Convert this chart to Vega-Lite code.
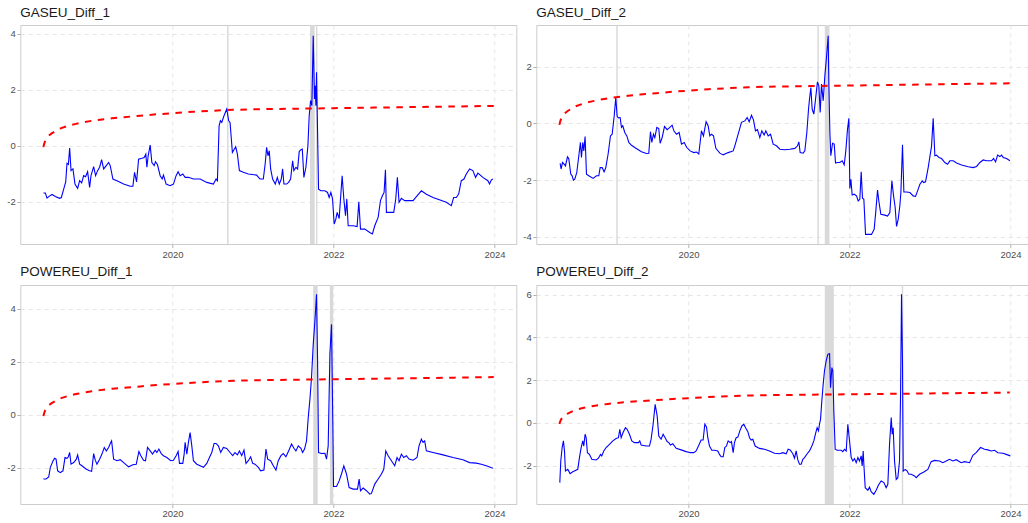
{
  "$schema": "https://vega.github.io/schema/vega-lite/v6.json",
  "padding": {"left": 6.3, "top": 5, "right": 0, "bottom": 0},
  "background": "white",
  "config": {
    "font": "Liberation Sans",
    "view": {"stroke": "#cccccc", "strokeWidth": 1},
    "axis": {
      "labelFont": "Liberation Sans",
      "labelFontSize": 9.5,
      "labelColor": "#4d4d4d",
      "tickColor": "#b3b3b3",
      "tickSize": 3.5,
      "labelPadding": 1.5,
      "domain": false,
      "grid": true,
      "gridColor": "#e6e6e6",
      "gridDash": [4, 4],
      "gridWidth": 1
    },
    "title": {
      "anchor": "start",
      "frame": "group",
      "font": "Liberation Sans",
      "fontSize": 13.5,
      "fontWeight": "normal",
      "color": "#1a1a1a",
      "offset": 6
    }
  },
  "datasets": {
    "cv": [
      {"t": 2018.397, "v": -0.05}, {"t": 2018.405, "v": 0.05}, {"t": 2018.42, "v": 0.18}, {"t": 2018.44, "v": 0.28},
      {"t": 2018.46, "v": 0.35}, {"t": 2018.50, "v": 0.44}, {"t": 2018.55, "v": 0.53}, {"t": 2018.60, "v": 0.61},
      {"t": 2018.70, "v": 0.71}, {"t": 2018.80, "v": 0.78}, {"t": 2018.90, "v": 0.84}, {"t": 2019.00, "v": 0.89},
      {"t": 2019.10, "v": 0.93}, {"t": 2019.25, "v": 0.98}, {"t": 2019.40, "v": 1.02}, {"t": 2019.60, "v": 1.07},
      {"t": 2019.80, "v": 1.12}, {"t": 2020.00, "v": 1.16}, {"t": 2020.25, "v": 1.21}, {"t": 2020.50, "v": 1.25},
      {"t": 2020.75, "v": 1.28}, {"t": 2021.00, "v": 1.30}, {"t": 2021.50, "v": 1.32}, {"t": 2022.00, "v": 1.34},
      {"t": 2022.50, "v": 1.36}, {"t": 2023.00, "v": 1.38}, {"t": 2023.50, "v": 1.40}, {"t": 2023.99, "v": 1.42}
    ],
    "b": [
      {"p": "G1", "t0": 2020.678, "t1": 2020.696}, {"p": "G1", "t0": 2021.708, "t1": 2021.766}, {"p": "G1", "t0": 2021.783, "t1": 2021.800},
      {"p": "G2", "t0": 2019.104, "t1": 2019.122}, {"p": "G2", "t0": 2021.601, "t1": 2021.619}, {"p": "G2", "t0": 2021.693, "t1": 2021.751},
      {"p": "P1", "t0": 2021.748, "t1": 2021.803}, {"p": "P1", "t0": 2021.955, "t1": 2021.996},
      {"p": "P2", "t0": 2021.693, "t1": 2021.805}, {"p": "P2", "t0": 2022.649, "t1": 2022.667}
    ],
    "s": [
      {"p":"G1","t":2018.397,"v":-1.69},{"p":"G1","t":2018.421,"v":-1.69},{"p":"G1","t":2018.442,"v":-1.87},{"p":"G1","t":2018.475,"v":-1.79},
      {"p":"G1","t":2018.504,"v":-1.74},{"p":"G1","t":2018.545,"v":-1.81},{"p":"G1","t":2018.599,"v":-1.88},{"p":"G1","t":2018.620,"v":-1.85},
      {"p":"G1","t":2018.649,"v":-1.55},{"p":"G1","t":2018.674,"v":-1.29},{"p":"G1","t":2018.690,"v":-0.63},{"p":"G1","t":2018.707,"v":-0.67},
      {"p":"G1","t":2018.723,"v":-0.08},{"p":"G1","t":2018.740,"v":-0.89},{"p":"G1","t":2018.764,"v":-0.83},{"p":"G1","t":2018.789,"v":-1.37},
      {"p":"G1","t":2018.822,"v":-1.52},{"p":"G1","t":2018.847,"v":-1.25},{"p":"G1","t":2018.872,"v":-1.33},{"p":"G1","t":2018.897,"v":-1.07},
      {"p":"G1","t":2018.921,"v":-1.11},{"p":"G1","t":2018.946,"v":-0.93},{"p":"G1","t":2018.971,"v":-1.49},{"p":"G1","t":2018.988,"v":-1.07},
      {"p":"G1","t":2019.021,"v":-0.75},{"p":"G1","t":2019.045,"v":-1.07},{"p":"G1","t":2019.070,"v":-0.89},{"p":"G1","t":2019.095,"v":-0.77},
      {"p":"G1","t":2019.120,"v":-0.50},{"p":"G1","t":2019.145,"v":-0.83},{"p":"G1","t":2019.178,"v":-0.71},{"p":"G1","t":2019.207,"v":-0.60},
      {"p":"G1","t":2019.227,"v":-0.71},{"p":"G1","t":2019.260,"v":-1.19},{"p":"G1","t":2019.310,"v":-1.25},{"p":"G1","t":2019.393,"v":-1.37},
      {"p":"G1","t":2019.475,"v":-1.45},{"p":"G1","t":2019.508,"v":-1.45},{"p":"G1","t":2019.529,"v":-0.95},{"p":"G1","t":2019.554,"v":-1.29},
      {"p":"G1","t":2019.579,"v":-0.48},{"p":"G1","t":2019.620,"v":-0.45},{"p":"G1","t":2019.649,"v":-0.42},{"p":"G1","t":2019.669,"v":-0.30},
      {"p":"G1","t":2019.682,"v":-0.77},{"p":"G1","t":2019.698,"v":-0.36},{"p":"G1","t":2019.723,"v":0.02},{"p":"G1","t":2019.744,"v":-0.60},
      {"p":"G1","t":2019.773,"v":-0.71},{"p":"G1","t":2019.789,"v":-0.57},{"p":"G1","t":2019.814,"v":-0.68},{"p":"G1","t":2019.847,"v":-1.07},
      {"p":"G1","t":2019.872,"v":-1.19},{"p":"G1","t":2019.888,"v":-1.05},{"p":"G1","t":2019.921,"v":-1.37},{"p":"G1","t":2019.971,"v":-1.43},
      {"p":"G1","t":2020.012,"v":-1.37},{"p":"G1","t":2020.045,"v":-1.07},{"p":"G1","t":2020.070,"v":-0.93},{"p":"G1","t":2020.095,"v":-1.07},
      {"p":"G1","t":2020.128,"v":-1.01},{"p":"G1","t":2020.157,"v":-1.13},{"p":"G1","t":2020.198,"v":-1.13},{"p":"G1","t":2020.260,"v":-1.19},
      {"p":"G1","t":2020.343,"v":-1.19},{"p":"G1","t":2020.426,"v":-1.31},{"p":"G1","t":2020.508,"v":-1.37},{"p":"G1","t":2020.541,"v":-1.19},
      {"p":"G1","t":2020.558,"v":-1.25},{"p":"G1","t":2020.579,"v":0.71},{"p":"G1","t":2020.595,"v":0.89},{"p":"G1","t":2020.612,"v":0.83},
      {"p":"G1","t":2020.640,"v":1.07},{"p":"G1","t":2020.674,"v":1.31},{"p":"G1","t":2020.698,"v":0.89},{"p":"G1","t":2020.715,"v":0.83},
      {"p":"G1","t":2020.744,"v":-0.24},{"p":"G1","t":2020.769,"v":-0.12},{"p":"G1","t":2020.785,"v":-0.04},{"p":"G1","t":2020.806,"v":-0.30},
      {"p":"G1","t":2020.831,"v":-0.89},{"p":"G1","t":2020.880,"v":-0.95},{"p":"G1","t":2020.942,"v":-1.01},{"p":"G1","t":2021.045,"v":-1.05},
      {"p":"G1","t":2021.087,"v":-1.19},{"p":"G1","t":2021.128,"v":-1.19},{"p":"G1","t":2021.153,"v":-0.60},{"p":"G1","t":2021.169,"v":-0.06},
      {"p":"G1","t":2021.186,"v":-0.36},{"p":"G1","t":2021.202,"v":-0.18},{"p":"G1","t":2021.219,"v":-0.83},{"p":"G1","t":2021.244,"v":-1.19},
      {"p":"G1","t":2021.277,"v":-1.37},{"p":"G1","t":2021.302,"v":-1.13},{"p":"G1","t":2021.326,"v":-1.37},{"p":"G1","t":2021.351,"v":-1.19},
      {"p":"G1","t":2021.368,"v":-0.83},{"p":"G1","t":2021.384,"v":-1.37},{"p":"G1","t":2021.417,"v":-1.37},{"p":"G1","t":2021.442,"v":-1.31},
      {"p":"G1","t":2021.467,"v":-1.19},{"p":"G1","t":2021.492,"v":-0.54},{"p":"G1","t":2021.508,"v":-0.89},{"p":"G1","t":2021.533,"v":-0.77},
      {"p":"G1","t":2021.554,"v":-0.83},{"p":"G1","t":2021.574,"v":-0.21},{"p":"G1","t":2021.595,"v":-0.14},{"p":"G1","t":2021.612,"v":-0.12},
      {"p":"G1","t":2021.632,"v":-1.13},{"p":"G1","t":2021.657,"v":-0.77},{"p":"G1","t":2021.682,"v":0.00},{"p":"G1","t":2021.698,"v":1.07},
      {"p":"G1","t":2021.715,"v":1.61},{"p":"G1","t":2021.731,"v":1.43},{"p":"G1","t":2021.748,"v":3.93},{"p":"G1","t":2021.764,"v":1.67},
      {"p":"G1","t":2021.773,"v":2.14},{"p":"G1","t":2021.781,"v":1.43},{"p":"G1","t":2021.789,"v":2.62},{"p":"G1","t":2021.802,"v":0.48},
      {"p":"G1","t":2021.814,"v":-1.55},{"p":"G1","t":2021.843,"v":-1.61},{"p":"G1","t":2021.893,"v":-1.61},{"p":"G1","t":2021.926,"v":-1.67},
      {"p":"G1","t":2021.946,"v":-1.85},{"p":"G1","t":2021.967,"v":-1.67},{"p":"G1","t":2021.988,"v":-1.90},{"p":"G1","t":2022.008,"v":-2.80},
      {"p":"G1","t":2022.029,"v":-2.62},{"p":"G1","t":2022.045,"v":-2.38},{"p":"G1","t":2022.070,"v":-2.60},{"p":"G1","t":2022.087,"v":-1.90},
      {"p":"G1","t":2022.107,"v":-1.07},{"p":"G1","t":2022.128,"v":-1.90},{"p":"G1","t":2022.149,"v":-2.50},{"p":"G1","t":2022.165,"v":-1.90},
      {"p":"G1","t":2022.182,"v":-2.86},{"p":"G1","t":2022.244,"v":-2.86},{"p":"G1","t":2022.293,"v":-2.89},{"p":"G1","t":2022.314,"v":-2.00},
      {"p":"G1","t":2022.335,"v":-2.98},{"p":"G1","t":2022.388,"v":-2.98},{"p":"G1","t":2022.450,"v":-3.10},{"p":"G1","t":2022.483,"v":-3.15},
      {"p":"G1","t":2022.512,"v":-2.86},{"p":"G1","t":2022.554,"v":-2.56},{"p":"G1","t":2022.583,"v":-1.96},{"p":"G1","t":2022.607,"v":-1.79},
      {"p":"G1","t":2022.628,"v":-1.67},{"p":"G1","t":2022.645,"v":-0.86},{"p":"G1","t":2022.657,"v":-2.38},{"p":"G1","t":2022.698,"v":-2.38},
      {"p":"G1","t":2022.748,"v":-2.38},{"p":"G1","t":2022.773,"v":-1.90},{"p":"G1","t":2022.793,"v":-1.13},{"p":"G1","t":2022.814,"v":-2.02},
      {"p":"G1","t":2022.843,"v":-1.88},{"p":"G1","t":2022.884,"v":-1.96},{"p":"G1","t":2022.988,"v":-1.96},{"p":"G1","t":2023.037,"v":-1.79},
      {"p":"G1","t":2023.091,"v":-1.61},{"p":"G1","t":2023.153,"v":-1.73},{"p":"G1","t":2023.236,"v":-1.85},{"p":"G1","t":2023.401,"v":-2.02},
      {"p":"G1","t":2023.463,"v":-2.14},{"p":"G1","t":2023.492,"v":-1.85},{"p":"G1","t":2023.525,"v":-1.85},{"p":"G1","t":2023.554,"v":-1.73},
      {"p":"G1","t":2023.587,"v":-1.25},{"p":"G1","t":2023.620,"v":-1.19},{"p":"G1","t":2023.649,"v":-1.01},{"p":"G1","t":2023.690,"v":-0.83},
      {"p":"G1","t":2023.731,"v":-0.89},{"p":"G1","t":2023.764,"v":-1.13},{"p":"G1","t":2023.793,"v":-0.98},{"p":"G1","t":2023.855,"v":-1.13},
      {"p":"G1","t":2023.917,"v":-1.25},{"p":"G1","t":2023.938,"v":-1.37},{"p":"G1","t":2023.959,"v":-1.23},{"p":"G1","t":2023.979,"v":-1.19},

      {"p":"G2","t":2018.406,"v":-1.41},{"p":"G2","t":2018.418,"v":-1.61},{"p":"G2","t":2018.435,"v":-1.38},{"p":"G2","t":2018.455,"v":-1.44},
      {"p":"G2","t":2018.472,"v":-1.50},{"p":"G2","t":2018.497,"v":-1.18},{"p":"G2","t":2018.513,"v":-1.24},{"p":"G2","t":2018.538,"v":-1.79},
      {"p":"G2","t":2018.555,"v":-1.85},{"p":"G2","t":2018.571,"v":-2.00},{"p":"G2","t":2018.588,"v":-1.97},{"p":"G2","t":2018.613,"v":-1.73},
      {"p":"G2","t":2018.638,"v":-1.14},{"p":"G2","t":2018.658,"v":-0.67},{"p":"G2","t":2018.671,"v":-1.20},{"p":"G2","t":2018.687,"v":-0.67},
      {"p":"G2","t":2018.700,"v":-0.97},{"p":"G2","t":2018.716,"v":-0.46},{"p":"G2","t":2018.733,"v":-1.79},{"p":"G2","t":2018.762,"v":-1.85},
      {"p":"G2","t":2018.816,"v":-1.94},{"p":"G2","t":2018.857,"v":-1.85},{"p":"G2","t":2018.886,"v":-1.85},{"p":"G2","t":2018.903,"v":-1.56},
      {"p":"G2","t":2018.928,"v":-1.56},{"p":"G2","t":2018.952,"v":-1.71},{"p":"G2","t":2018.973,"v":-1.56},{"p":"G2","t":2019.002,"v":-1.08},
      {"p":"G2","t":2019.031,"v":-0.44},{"p":"G2","t":2019.052,"v":-0.38},{"p":"G2","t":2019.077,"v":0.25},{"p":"G2","t":2019.097,"v":0.92},
      {"p":"G2","t":2019.114,"v":0.25},{"p":"G2","t":2019.130,"v":0.20},{"p":"G2","t":2019.151,"v":0.21},{"p":"G2","t":2019.168,"v":-0.14},
      {"p":"G2","t":2019.184,"v":-0.08},{"p":"G2","t":2019.209,"v":-0.32},{"p":"G2","t":2019.234,"v":-0.44},{"p":"G2","t":2019.259,"v":-0.67},
      {"p":"G2","t":2019.292,"v":-0.77},{"p":"G2","t":2019.333,"v":-0.85},{"p":"G2","t":2019.416,"v":-1.00},{"p":"G2","t":2019.478,"v":-1.06},
      {"p":"G2","t":2019.507,"v":-1.05},{"p":"G2","t":2019.528,"v":-0.29},{"p":"G2","t":2019.545,"v":-0.67},{"p":"G2","t":2019.565,"v":-0.38},
      {"p":"G2","t":2019.582,"v":-0.50},{"p":"G2","t":2019.607,"v":-0.14},{"p":"G2","t":2019.631,"v":-0.18},{"p":"G2","t":2019.648,"v":-0.70},
      {"p":"G2","t":2019.673,"v":-0.50},{"p":"G2","t":2019.702,"v":-0.11},{"p":"G2","t":2019.735,"v":-0.22},{"p":"G2","t":2019.768,"v":-0.14},
      {"p":"G2","t":2019.797,"v":-0.06},{"p":"G2","t":2019.818,"v":-0.26},{"p":"G2","t":2019.851,"v":-0.38},{"p":"G2","t":2019.884,"v":-0.32},
      {"p":"G2","t":2019.913,"v":-0.73},{"p":"G2","t":2019.946,"v":-0.67},{"p":"G2","t":2019.979,"v":-0.85},{"p":"G2","t":2020.021,"v":-0.97},
      {"p":"G2","t":2020.066,"v":-1.03},{"p":"G2","t":2020.099,"v":-1.01},{"p":"G2","t":2020.128,"v":-1.08},{"p":"G2","t":2020.161,"v":-0.26},
      {"p":"G2","t":2020.186,"v":-0.44},{"p":"G2","t":2020.219,"v":0.06},{"p":"G2","t":2020.244,"v":-0.08},{"p":"G2","t":2020.265,"v":-0.44},
      {"p":"G2","t":2020.286,"v":-0.38},{"p":"G2","t":2020.311,"v":-0.44},{"p":"G2","t":2020.340,"v":-0.88},{"p":"G2","t":2020.389,"v":-1.05},
      {"p":"G2","t":2020.431,"v":-1.11},{"p":"G2","t":2020.493,"v":-1.03},{"p":"G2","t":2020.555,"v":-0.97},{"p":"G2","t":2020.576,"v":-0.79},
      {"p":"G2","t":2020.617,"v":-0.38},{"p":"G2","t":2020.658,"v":0.04},{"p":"G2","t":2020.700,"v":0.09},{"p":"G2","t":2020.729,"v":0.21},
      {"p":"G2","t":2020.754,"v":0.06},{"p":"G2","t":2020.783,"v":0.29},{"p":"G2","t":2020.807,"v":0.13},{"p":"G2","t":2020.832,"v":-0.26},
      {"p":"G2","t":2020.857,"v":-0.22},{"p":"G2","t":2020.886,"v":-0.50},{"p":"G2","t":2020.911,"v":-0.26},{"p":"G2","t":2020.940,"v":-0.41},
      {"p":"G2","t":2020.961,"v":-0.26},{"p":"G2","t":2020.990,"v":-0.44},{"p":"G2","t":2021.019,"v":-0.38},{"p":"G2","t":2021.052,"v":-0.73},
      {"p":"G2","t":2021.093,"v":-0.79},{"p":"G2","t":2021.135,"v":-0.91},{"p":"G2","t":2021.197,"v":-0.93},{"p":"G2","t":2021.259,"v":-0.91},
      {"p":"G2","t":2021.321,"v":-0.88},{"p":"G2","t":2021.354,"v":-0.79},{"p":"G2","t":2021.371,"v":-0.65},{"p":"G2","t":2021.387,"v":-1.03},
      {"p":"G2","t":2021.424,"v":-1.05},{"p":"G2","t":2021.445,"v":-0.97},{"p":"G2","t":2021.470,"v":-0.32},{"p":"G2","t":2021.491,"v":0.51},
      {"p":"G2","t":2021.503,"v":0.86},{"p":"G2","t":2021.520,"v":1.27},{"p":"G2","t":2021.536,"v":0.51},{"p":"G2","t":2021.557,"v":0.33},
      {"p":"G2","t":2021.578,"v":0.86},{"p":"G2","t":2021.602,"v":1.47},{"p":"G2","t":2021.619,"v":1.33},{"p":"G2","t":2021.636,"v":0.39},
      {"p":"G2","t":2021.652,"v":1.39},{"p":"G2","t":2021.673,"v":0.80},{"p":"G2","t":2021.694,"v":1.69},{"p":"G2","t":2021.714,"v":2.34},
      {"p":"G2","t":2021.735,"v":3.10},{"p":"G2","t":2021.743,"v":1.45},{"p":"G2","t":2021.756,"v":-0.32},{"p":"G2","t":2021.768,"v":-1.14},
      {"p":"G2","t":2021.789,"v":-0.70},{"p":"G2","t":2021.810,"v":-0.73},{"p":"G2","t":2021.826,"v":-1.40},{"p":"G2","t":2021.851,"v":-1.38},
      {"p":"G2","t":2021.880,"v":-1.38},{"p":"G2","t":2021.909,"v":-1.32},{"p":"G2","t":2021.934,"v":-1.46},{"p":"G2","t":2021.954,"v":-0.97},
      {"p":"G2","t":2021.975,"v":-0.20},{"p":"G2","t":2021.992,"v":0.18},{"p":"G2","t":2022.004,"v":-2.30},{"p":"G2","t":2022.017,"v":-1.97},
      {"p":"G2","t":2022.033,"v":-2.53},{"p":"G2","t":2022.058,"v":-2.50},{"p":"G2","t":2022.087,"v":-2.56},{"p":"G2","t":2022.108,"v":-2.74},
      {"p":"G2","t":2022.128,"v":-2.68},{"p":"G2","t":2022.145,"v":-1.71},{"p":"G2","t":2022.161,"v":-2.64},{"p":"G2","t":2022.178,"v":-2.68},
      {"p":"G2","t":2022.199,"v":-3.92},{"p":"G2","t":2022.232,"v":-3.92},{"p":"G2","t":2022.273,"v":-3.92},{"p":"G2","t":2022.306,"v":-3.74},
      {"p":"G2","t":2022.327,"v":-3.09},{"p":"G2","t":2022.348,"v":-2.35},{"p":"G2","t":2022.364,"v":-2.74},{"p":"G2","t":2022.389,"v":-3.21},
      {"p":"G2","t":2022.439,"v":-3.24},{"p":"G2","t":2022.472,"v":-3.27},{"p":"G2","t":2022.501,"v":-3.15},{"p":"G2","t":2022.526,"v":-2.03},
      {"p":"G2","t":2022.547,"v":-2.56},{"p":"G2","t":2022.567,"v":-2.97},{"p":"G2","t":2022.584,"v":-3.64},{"p":"G2","t":2022.605,"v":-3.38},
      {"p":"G2","t":2022.625,"v":-2.91},{"p":"G2","t":2022.638,"v":-2.44},{"p":"G2","t":2022.658,"v":-0.75},{"p":"G2","t":2022.675,"v":-2.42},
      {"p":"G2","t":2022.708,"v":-2.42},{"p":"G2","t":2022.750,"v":-2.44},{"p":"G2","t":2022.791,"v":-2.56},{"p":"G2","t":2022.820,"v":-2.58},
      {"p":"G2","t":2022.853,"v":-2.32},{"p":"G2","t":2022.874,"v":-2.15},{"p":"G2","t":2022.903,"v":-2.03},{"p":"G2","t":2022.919,"v":-2.09},
      {"p":"G2","t":2022.944,"v":-2.06},{"p":"G2","t":2022.977,"v":-1.56},{"p":"G2","t":2023.019,"v":-0.79},{"p":"G2","t":2023.039,"v":0.18},
      {"p":"G2","t":2023.060,"v":-1.14},{"p":"G2","t":2023.081,"v":-1.12},{"p":"G2","t":2023.110,"v":-1.20},{"p":"G2","t":2023.143,"v":-1.24},
      {"p":"G2","t":2023.184,"v":-1.38},{"p":"G2","t":2023.217,"v":-1.44},{"p":"G2","t":2023.246,"v":-1.32},{"p":"G2","t":2023.288,"v":-1.32},
      {"p":"G2","t":2023.329,"v":-1.40},{"p":"G2","t":2023.391,"v":-1.47},{"p":"G2","t":2023.474,"v":-1.53},{"p":"G2","t":2023.536,"v":-1.56},
      {"p":"G2","t":2023.578,"v":-1.52},{"p":"G2","t":2023.619,"v":-1.38},{"p":"G2","t":2023.660,"v":-1.29},{"p":"G2","t":2023.702,"v":-1.32},
      {"p":"G2","t":2023.764,"v":-1.32},{"p":"G2","t":2023.789,"v":-1.24},{"p":"G2","t":2023.814,"v":-1.36},{"p":"G2","t":2023.839,"v":-1.12},
      {"p":"G2","t":2023.867,"v":-1.17},{"p":"G2","t":2023.888,"v":-1.12},{"p":"G2","t":2023.909,"v":-1.20},{"p":"G2","t":2023.950,"v":-1.24},
      {"p":"G2","t":2023.992,"v":-1.32},

      {"p":"P1","t":2018.397,"v":-2.42},{"p":"P1","t":2018.430,"v":-2.42},{"p":"P1","t":2018.463,"v":-2.34},{"p":"P1","t":2018.483,"v":-1.98},
      {"p":"P1","t":2018.517,"v":-1.73},{"p":"P1","t":2018.537,"v":-1.64},{"p":"P1","t":2018.554,"v":-1.67},{"p":"P1","t":2018.574,"v":-2.11},
      {"p":"P1","t":2018.607,"v":-2.18},{"p":"P1","t":2018.640,"v":-2.11},{"p":"P1","t":2018.665,"v":-1.61},{"p":"P1","t":2018.690,"v":-1.64},
      {"p":"P1","t":2018.707,"v":-1.58},{"p":"P1","t":2018.723,"v":-1.42},{"p":"P1","t":2018.740,"v":-1.86},{"p":"P1","t":2018.773,"v":-1.80},
      {"p":"P1","t":2018.806,"v":-1.67},{"p":"P1","t":2018.822,"v":-1.51},{"p":"P1","t":2018.847,"v":-1.86},{"p":"P1","t":2018.876,"v":-1.92},
      {"p":"P1","t":2018.930,"v":-2.05},{"p":"P1","t":2018.971,"v":-2.11},{"p":"P1","t":2018.996,"v":-2.13},{"p":"P1","t":2019.021,"v":-1.46},
      {"p":"P1","t":2019.041,"v":-1.71},{"p":"P1","t":2019.062,"v":-1.86},{"p":"P1","t":2019.095,"v":-1.67},{"p":"P1","t":2019.124,"v":-1.48},
      {"p":"P1","t":2019.153,"v":-1.23},{"p":"P1","t":2019.178,"v":-1.36},{"p":"P1","t":2019.207,"v":-1.23},{"p":"P1","t":2019.227,"v":-1.08},
      {"p":"P1","t":2019.244,"v":-0.98},{"p":"P1","t":2019.269,"v":-1.67},{"p":"P1","t":2019.310,"v":-1.73},{"p":"P1","t":2019.351,"v":-1.69},
      {"p":"P1","t":2019.393,"v":-1.80},{"p":"P1","t":2019.455,"v":-1.96},{"p":"P1","t":2019.508,"v":-1.88},{"p":"P1","t":2019.550,"v":-1.86},
      {"p":"P1","t":2019.583,"v":-1.38},{"p":"P1","t":2019.607,"v":-1.54},{"p":"P1","t":2019.640,"v":-1.71},{"p":"P1","t":2019.665,"v":-1.73},
      {"p":"P1","t":2019.690,"v":-1.23},{"p":"P1","t":2019.723,"v":-1.36},{"p":"P1","t":2019.752,"v":-1.48},{"p":"P1","t":2019.785,"v":-1.33},
      {"p":"P1","t":2019.806,"v":-1.42},{"p":"P1","t":2019.831,"v":-1.29},{"p":"P1","t":2019.860,"v":-1.46},{"p":"P1","t":2019.888,"v":-1.54},
      {"p":"P1","t":2019.930,"v":-1.61},{"p":"P1","t":2019.979,"v":-1.73},{"p":"P1","t":2020.012,"v":-1.71},{"p":"P1","t":2020.045,"v":-1.54},
      {"p":"P1","t":2020.070,"v":-1.38},{"p":"P1","t":2020.087,"v":-1.83},{"p":"P1","t":2020.128,"v":-1.83},{"p":"P1","t":2020.145,"v":-1.48},
      {"p":"P1","t":2020.157,"v":-1.04},{"p":"P1","t":2020.178,"v":-1.48},{"p":"P1","t":2020.198,"v":-1.04},{"p":"P1","t":2020.219,"v":-0.67},
      {"p":"P1","t":2020.240,"v":-1.17},{"p":"P1","t":2020.260,"v":-1.73},{"p":"P1","t":2020.302,"v":-1.86},{"p":"P1","t":2020.343,"v":-1.92},
      {"p":"P1","t":2020.384,"v":-1.98},{"p":"P1","t":2020.426,"v":-1.83},{"p":"P1","t":2020.459,"v":-1.61},{"p":"P1","t":2020.488,"v":-1.42},
      {"p":"P1","t":2020.517,"v":-1.08},{"p":"P1","t":2020.541,"v":-1.08},{"p":"P1","t":2020.570,"v":-1.17},{"p":"P1","t":2020.599,"v":-1.42},
      {"p":"P1","t":2020.632,"v":-1.23},{"p":"P1","t":2020.674,"v":-1.27},{"p":"P1","t":2020.715,"v":-1.42},{"p":"P1","t":2020.748,"v":-1.54},
      {"p":"P1","t":2020.777,"v":-1.42},{"p":"P1","t":2020.806,"v":-1.51},{"p":"P1","t":2020.831,"v":-1.36},{"p":"P1","t":2020.860,"v":-1.54},
      {"p":"P1","t":2020.888,"v":-1.33},{"p":"P1","t":2020.913,"v":-1.83},{"p":"P1","t":2020.942,"v":-1.73},{"p":"P1","t":2020.971,"v":-1.58},
      {"p":"P1","t":2020.996,"v":-1.83},{"p":"P1","t":2021.025,"v":-1.86},{"p":"P1","t":2021.066,"v":-1.98},{"p":"P1","t":2021.095,"v":-2.11},
      {"p":"P1","t":2021.136,"v":-2.08},{"p":"P1","t":2021.161,"v":-1.29},{"p":"P1","t":2021.182,"v":-1.67},{"p":"P1","t":2021.219,"v":-1.73},
      {"p":"P1","t":2021.252,"v":-1.92},{"p":"P1","t":2021.285,"v":-2.08},{"p":"P1","t":2021.314,"v":-1.73},{"p":"P1","t":2021.347,"v":-1.54},
      {"p":"P1","t":2021.376,"v":-1.46},{"p":"P1","t":2021.409,"v":-1.58},{"p":"P1","t":2021.442,"v":-1.36},{"p":"P1","t":2021.479,"v":-1.10},
      {"p":"P1","t":2021.508,"v":-1.26},{"p":"P1","t":2021.533,"v":-1.36},{"p":"P1","t":2021.562,"v":-1.17},{"p":"P1","t":2021.595,"v":-1.26},
      {"p":"P1","t":2021.616,"v":-1.42},{"p":"P1","t":2021.640,"v":-1.29},{"p":"P1","t":2021.665,"v":-0.98},{"p":"P1","t":2021.686,"v":-0.10},
      {"p":"P1","t":2021.707,"v":0.59},{"p":"P1","t":2021.727,"v":1.41},{"p":"P1","t":2021.748,"v":2.66},{"p":"P1","t":2021.769,"v":3.54},
      {"p":"P1","t":2021.789,"v":4.54},{"p":"P1","t":2021.802,"v":2.03},{"p":"P1","t":2021.814,"v":-1.42},{"p":"P1","t":2021.851,"v":-1.46},
      {"p":"P1","t":2021.893,"v":-1.45},{"p":"P1","t":2021.913,"v":-1.67},{"p":"P1","t":2021.934,"v":-1.17},{"p":"P1","t":2021.955,"v":2.28},
      {"p":"P1","t":2021.975,"v":3.41},{"p":"P1","t":2021.992,"v":-0.48},{"p":"P1","t":2022.000,"v":-2.70},{"p":"P1","t":2022.037,"v":-2.70},
      {"p":"P1","t":2022.070,"v":-2.49},{"p":"P1","t":2022.099,"v":-2.23},{"p":"P1","t":2022.128,"v":-1.92},{"p":"P1","t":2022.161,"v":-2.23},
      {"p":"P1","t":2022.194,"v":-2.74},{"p":"P1","t":2022.244,"v":-2.80},{"p":"P1","t":2022.298,"v":-2.80},{"p":"P1","t":2022.318,"v":-2.42},
      {"p":"P1","t":2022.335,"v":-2.86},{"p":"P1","t":2022.368,"v":-2.76},{"p":"P1","t":2022.409,"v":-2.86},{"p":"P1","t":2022.450,"v":-2.99},
      {"p":"P1","t":2022.471,"v":-2.96},{"p":"P1","t":2022.512,"v":-2.61},{"p":"P1","t":2022.554,"v":-2.42},{"p":"P1","t":2022.595,"v":-2.23},
      {"p":"P1","t":2022.624,"v":-2.05},{"p":"P1","t":2022.649,"v":-1.36},{"p":"P1","t":2022.678,"v":-1.54},{"p":"P1","t":2022.719,"v":-1.73},
      {"p":"P1","t":2022.760,"v":-1.92},{"p":"P1","t":2022.789,"v":-1.61},{"p":"P1","t":2022.814,"v":-1.73},{"p":"P1","t":2022.843,"v":-1.48},
      {"p":"P1","t":2022.872,"v":-1.61},{"p":"P1","t":2022.905,"v":-1.54},{"p":"P1","t":2022.938,"v":-1.67},{"p":"P1","t":2022.988,"v":-1.71},
      {"p":"P1","t":2023.037,"v":-1.61},{"p":"P1","t":2023.062,"v":-1.17},{"p":"P1","t":2023.091,"v":-0.92},{"p":"P1","t":2023.112,"v":-1.04},
      {"p":"P1","t":2023.132,"v":-0.98},{"p":"P1","t":2023.153,"v":-1.36},{"p":"P1","t":2023.236,"v":-1.42},{"p":"P1","t":2023.360,"v":-1.51},
      {"p":"P1","t":2023.483,"v":-1.61},{"p":"P1","t":2023.607,"v":-1.69},{"p":"P1","t":2023.690,"v":-1.80},{"p":"P1","t":2023.773,"v":-1.82},
      {"p":"P1","t":2023.835,"v":-1.86},{"p":"P1","t":2023.897,"v":-1.92},{"p":"P1","t":2023.979,"v":-2.01},

      {"p":"P2","t":2018.402,"v":-2.79},{"p":"P2","t":2018.414,"v":-1.78},{"p":"P2","t":2018.431,"v":-1.15},{"p":"P2","t":2018.447,"v":-0.84},
      {"p":"P2","t":2018.460,"v":-1.31},{"p":"P2","t":2018.472,"v":-2.25},{"p":"P2","t":2018.501,"v":-2.17},{"p":"P2","t":2018.530,"v":-2.37},
      {"p":"P2","t":2018.563,"v":-2.28},{"p":"P2","t":2018.596,"v":-2.22},{"p":"P2","t":2018.625,"v":-2.17},{"p":"P2","t":2018.646,"v":-1.62},
      {"p":"P2","t":2018.667,"v":-1.15},{"p":"P2","t":2018.687,"v":-0.84},{"p":"P2","t":2018.700,"v":-1.08},{"p":"P2","t":2018.716,"v":-0.53},
      {"p":"P2","t":2018.729,"v":-0.69},{"p":"P2","t":2018.745,"v":-1.39},{"p":"P2","t":2018.770,"v":-1.47},{"p":"P2","t":2018.799,"v":-1.70},
      {"p":"P2","t":2018.853,"v":-1.73},{"p":"P2","t":2018.882,"v":-1.65},{"p":"P2","t":2018.907,"v":-1.47},{"p":"P2","t":2018.923,"v":-1.54},
      {"p":"P2","t":2018.948,"v":-1.31},{"p":"P2","t":2018.977,"v":-1.15},{"p":"P2","t":2019.019,"v":-1.00},{"p":"P2","t":2019.060,"v":-0.84},
      {"p":"P2","t":2019.101,"v":-0.73},{"p":"P2","t":2019.130,"v":-0.69},{"p":"P2","t":2019.147,"v":-0.30},{"p":"P2","t":2019.164,"v":-0.69},
      {"p":"P2","t":2019.188,"v":-0.45},{"p":"P2","t":2019.217,"v":-0.22},{"p":"P2","t":2019.238,"v":-0.30},{"p":"P2","t":2019.267,"v":-0.53},
      {"p":"P2","t":2019.296,"v":-0.84},{"p":"P2","t":2019.329,"v":-0.92},{"p":"P2","t":2019.379,"v":-0.92},{"p":"P2","t":2019.395,"v":-0.84},
      {"p":"P2","t":2019.412,"v":-1.03},{"p":"P2","t":2019.474,"v":-1.08},{"p":"P2","t":2019.516,"v":-1.08},{"p":"P2","t":2019.536,"v":-0.76},
      {"p":"P2","t":2019.561,"v":-0.06},{"p":"P2","t":2019.586,"v":0.87},{"p":"P2","t":2019.611,"v":0.33},{"p":"P2","t":2019.631,"v":-0.61},
      {"p":"P2","t":2019.660,"v":-0.76},{"p":"P2","t":2019.685,"v":-0.53},{"p":"P2","t":2019.710,"v":-0.69},{"p":"P2","t":2019.735,"v":-0.87},
      {"p":"P2","t":2019.756,"v":-0.92},{"p":"P2","t":2019.776,"v":-1.03},{"p":"P2","t":2019.805,"v":-0.97},{"p":"P2","t":2019.847,"v":-1.19},
      {"p":"P2","t":2019.909,"v":-1.26},{"p":"P2","t":2019.971,"v":-1.34},{"p":"P2","t":2020.025,"v":-1.39},{"p":"P2","t":2020.066,"v":-1.39},
      {"p":"P2","t":2020.095,"v":-1.31},{"p":"P2","t":2020.124,"v":-1.08},{"p":"P2","t":2020.157,"v":-0.80},{"p":"P2","t":2020.182,"v":-0.80},
      {"p":"P2","t":2020.203,"v":-0.06},{"p":"P2","t":2020.224,"v":-0.19},{"p":"P2","t":2020.240,"v":-0.69},{"p":"P2","t":2020.261,"v":-1.08},
      {"p":"P2","t":2020.290,"v":-1.28},{"p":"P2","t":2020.323,"v":-1.28},{"p":"P2","t":2020.364,"v":-1.31},{"p":"P2","t":2020.385,"v":-1.47},
      {"p":"P2","t":2020.406,"v":-1.58},{"p":"P2","t":2020.431,"v":-1.58},{"p":"P2","t":2020.451,"v":-1.15},{"p":"P2","t":2020.472,"v":-1.08},
      {"p":"P2","t":2020.493,"v":-0.84},{"p":"P2","t":2020.518,"v":-0.92},{"p":"P2","t":2020.534,"v":-0.87},{"p":"P2","t":2020.555,"v":-1.39},
      {"p":"P2","t":2020.571,"v":-0.92},{"p":"P2","t":2020.592,"v":-0.69},{"p":"P2","t":2020.613,"v":-0.66},{"p":"P2","t":2020.638,"v":-0.37},
      {"p":"P2","t":2020.663,"v":-0.14},{"p":"P2","t":2020.687,"v":-0.06},{"p":"P2","t":2020.712,"v":-0.25},{"p":"P2","t":2020.737,"v":-0.41},
      {"p":"P2","t":2020.758,"v":-0.69},{"p":"P2","t":2020.778,"v":-0.80},{"p":"P2","t":2020.799,"v":-0.76},{"p":"P2","t":2020.828,"v":-1.08},
      {"p":"P2","t":2020.882,"v":-1.19},{"p":"P2","t":2020.944,"v":-1.23},{"p":"P2","t":2021.006,"v":-1.31},{"p":"P2","t":2021.068,"v":-1.42},
      {"p":"P2","t":2021.130,"v":-1.44},{"p":"P2","t":2021.172,"v":-1.39},{"p":"P2","t":2021.213,"v":-1.44},{"p":"P2","t":2021.238,"v":-1.23},
      {"p":"P2","t":2021.263,"v":-1.26},{"p":"P2","t":2021.296,"v":-1.44},{"p":"P2","t":2021.317,"v":-1.65},{"p":"P2","t":2021.337,"v":-1.31},
      {"p":"P2","t":2021.358,"v":-1.73},{"p":"P2","t":2021.379,"v":-1.93},{"p":"P2","t":2021.400,"v":-1.93},{"p":"P2","t":2021.420,"v":-1.70},
      {"p":"P2","t":2021.441,"v":-1.62},{"p":"P2","t":2021.474,"v":-1.44},{"p":"P2","t":2021.503,"v":-1.31},{"p":"P2","t":2021.532,"v":-1.08},
      {"p":"P2","t":2021.557,"v":-0.84},{"p":"P2","t":2021.578,"v":-0.50},{"p":"P2","t":2021.598,"v":-0.22},{"p":"P2","t":2021.615,"v":-0.37},
      {"p":"P2","t":2021.627,"v":-0.06},{"p":"P2","t":2021.640,"v":0.17},{"p":"P2","t":2021.656,"v":1.03},{"p":"P2","t":2021.673,"v":1.81},
      {"p":"P2","t":2021.689,"v":2.43},{"p":"P2","t":2021.710,"v":2.90},{"p":"P2","t":2021.731,"v":3.21},{"p":"P2","t":2021.752,"v":3.24},
      {"p":"P2","t":2021.764,"v":1.65},{"p":"P2","t":2021.781,"v":2.59},{"p":"P2","t":2021.793,"v":2.43},{"p":"P2","t":2021.805,"v":0.56},
      {"p":"P2","t":2021.822,"v":-1.23},{"p":"P2","t":2021.847,"v":-1.28},{"p":"P2","t":2021.896,"v":-1.28},{"p":"P2","t":2021.917,"v":-1.34},
      {"p":"P2","t":2021.938,"v":-1.23},{"p":"P2","t":2021.959,"v":-1.31},{"p":"P2","t":2021.979,"v":-0.06},{"p":"P2","t":2022.000,"v":-0.84},
      {"p":"P2","t":2022.021,"v":-1.62},{"p":"P2","t":2022.041,"v":-1.78},{"p":"P2","t":2022.062,"v":-1.67},{"p":"P2","t":2022.083,"v":-1.86},
      {"p":"P2","t":2022.104,"v":-1.62},{"p":"P2","t":2022.124,"v":-1.78},{"p":"P2","t":2022.145,"v":-1.54},{"p":"P2","t":2022.157,"v":-2.01},
      {"p":"P2","t":2022.170,"v":-1.31},{"p":"P2","t":2022.178,"v":-1.93},{"p":"P2","t":2022.195,"v":-3.03},{"p":"P2","t":2022.228,"v":-3.15},
      {"p":"P2","t":2022.248,"v":-3.00},{"p":"P2","t":2022.269,"v":-3.21},{"p":"P2","t":2022.302,"v":-3.34},{"p":"P2","t":2022.331,"v":-3.15},
      {"p":"P2","t":2022.360,"v":-2.90},{"p":"P2","t":2022.393,"v":-2.71},{"p":"P2","t":2022.427,"v":-2.79},{"p":"P2","t":2022.455,"v":-3.03},
      {"p":"P2","t":2022.476,"v":-2.87},{"p":"P2","t":2022.497,"v":-1.00},{"p":"P2","t":2022.518,"v":0.25},{"p":"P2","t":2022.530,"v":-0.53},
      {"p":"P2","t":2022.542,"v":-0.22},{"p":"P2","t":2022.559,"v":-1.78},{"p":"P2","t":2022.580,"v":-2.64},{"p":"P2","t":2022.600,"v":-2.56},
      {"p":"P2","t":2022.621,"v":-1.78},{"p":"P2","t":2022.634,"v":1.34},{"p":"P2","t":2022.646,"v":6.02},{"p":"P2","t":2022.658,"v":2.90},
      {"p":"P2","t":2022.667,"v":-2.25},{"p":"P2","t":2022.692,"v":-2.17},{"p":"P2","t":2022.716,"v":-2.25},{"p":"P2","t":2022.737,"v":-2.40},
      {"p":"P2","t":2022.766,"v":-2.40},{"p":"P2","t":2022.807,"v":-2.48},{"p":"P2","t":2022.828,"v":-2.56},{"p":"P2","t":2022.870,"v":-2.40},
      {"p":"P2","t":2022.923,"v":-2.29},{"p":"P2","t":2022.973,"v":-2.17},{"p":"P2","t":2023.014,"v":-1.81},{"p":"P2","t":2023.056,"v":-1.75},
      {"p":"P2","t":2023.118,"v":-1.78},{"p":"P2","t":2023.159,"v":-1.86},{"p":"P2","t":2023.201,"v":-1.78},{"p":"P2","t":2023.242,"v":-1.70},
      {"p":"P2","t":2023.284,"v":-1.78},{"p":"P2","t":2023.325,"v":-1.72},{"p":"P2","t":2023.387,"v":-1.86},{"p":"P2","t":2023.429,"v":-1.81},
      {"p":"P2","t":2023.491,"v":-1.86},{"p":"P2","t":2023.532,"v":-1.51},{"p":"P2","t":2023.573,"v":-1.39},{"p":"P2","t":2023.627,"v":-1.15},
      {"p":"P2","t":2023.677,"v":-1.23},{"p":"P2","t":2023.718,"v":-1.26},{"p":"P2","t":2023.760,"v":-1.31},{"p":"P2","t":2023.801,"v":-1.28},
      {"p":"P2","t":2023.843,"v":-1.39},{"p":"P2","t":2023.905,"v":-1.42},{"p":"P2","t":2023.946,"v":-1.47},{"p":"P2","t":2023.996,"v":-1.54}
    ]
  },
  "columns": 2,
  "spacing": {"row": 41, "column": 20},
  "bounds": "flush",
  "concat": [
    {
      "width": 496, "height": 219,
      "title": {"text": "GASEU_Diff_1"},
      "layer": [
        {"data": {"name": "b"}, "transform": [{"filter": "datum.p === 'G1'"}],
         "mark": {"type": "rect", "color": "#d9d9d9"},
         "encoding": {"x": {"field": "t0", "type": "quantitative", "scale": {"domain": [2018.11, 2024.27], "nice": false, "zero": false}, "axis": {"values": [2020, 2022, 2024], "format": "d", "title": null}}, "x2": {"field": "t1"}}},
        {"data": {"name": "s"}, "transform": [{"filter": "datum.p === 'G1'"}],
         "mark": {"type": "line", "color": "#0000ff", "strokeWidth": 1.1},
         "encoding": {"x": {"field": "t", "type": "quantitative", "scale": {"domain": [2018.11, 2024.27], "nice": false, "zero": false}, "axis": {"values": [2020, 2022, 2024], "format": "d", "title": null}},
                      "y": {"field": "v", "type": "quantitative", "scale": {"domain": [-3.51, 4.31], "nice": false, "zero": false}, "axis": {"values": [-2, 0, 2, 4], "title": null, "labelExpr": "replace(datum.label, '−', '-')"}}}},
        {"data": {"name": "cv"},
         "mark": {"type": "line", "color": "#ff0000", "strokeWidth": 2, "strokeDash": [6.5, 6.5]},
         "encoding": {"x": {"field": "t", "type": "quantitative"}, "y": {"field": "v", "type": "quantitative"}}}
      ]
    },
    {
      "width": 496, "height": 219,
      "title": {"text": "GASEU_Diff_2"},
      "layer": [
        {"data": {"name": "b"}, "transform": [{"filter": "datum.p === 'G2'"}],
         "mark": {"type": "rect", "color": "#d9d9d9"},
         "encoding": {"x": {"field": "t0", "type": "quantitative", "scale": {"domain": [2018.11, 2024.27], "nice": false, "zero": false}, "axis": {"values": [2020, 2022, 2024], "format": "d", "title": null}}, "x2": {"field": "t1"}}},
        {"data": {"name": "s"}, "transform": [{"filter": "datum.p === 'G2'"}],
         "mark": {"type": "line", "color": "#0000ff", "strokeWidth": 1.1},
         "encoding": {"x": {"field": "t", "type": "quantitative", "scale": {"domain": [2018.11, 2024.27], "nice": false, "zero": false}, "axis": {"values": [2020, 2022, 2024], "format": "d", "title": null}},
                      "y": {"field": "v", "type": "quantitative", "scale": {"domain": [-4.26, 3.48], "nice": false, "zero": false}, "axis": {"values": [-4, -2, 0, 2], "title": null, "labelExpr": "replace(datum.label, '−', '-')"}}}},
        {"data": {"name": "cv"},
         "mark": {"type": "line", "color": "#ff0000", "strokeWidth": 2, "strokeDash": [6.5, 6.5]},
         "encoding": {"x": {"field": "t", "type": "quantitative"}, "y": {"field": "v", "type": "quantitative"}}}
      ]
    },
    {
      "width": 496, "height": 219,
      "title": {"text": "POWEREU_Diff_1"},
      "layer": [
        {"data": {"name": "b"}, "transform": [{"filter": "datum.p === 'P1'"}],
         "mark": {"type": "rect", "color": "#d9d9d9"},
         "encoding": {"x": {"field": "t0", "type": "quantitative", "scale": {"domain": [2018.11, 2024.27], "nice": false, "zero": false}, "axis": {"values": [2020, 2022, 2024], "format": "d", "title": null}}, "x2": {"field": "t1"}}},
        {"data": {"name": "s"}, "transform": [{"filter": "datum.p === 'P1'"}],
         "mark": {"type": "line", "color": "#0000ff", "strokeWidth": 1.1},
         "encoding": {"x": {"field": "t", "type": "quantitative", "scale": {"domain": [2018.11, 2024.27], "nice": false, "zero": false}, "axis": {"values": [2020, 2022, 2024], "format": "d", "title": null}},
                      "y": {"field": "v", "type": "quantitative", "scale": {"domain": [-3.36, 4.89], "nice": false, "zero": false}, "axis": {"values": [-2, 0, 2, 4], "title": null, "labelExpr": "replace(datum.label, '−', '-')"}}}},
        {"data": {"name": "cv"},
         "mark": {"type": "line", "color": "#ff0000", "strokeWidth": 2, "strokeDash": [6.5, 6.5]},
         "encoding": {"x": {"field": "t", "type": "quantitative"}, "y": {"field": "v", "type": "quantitative"}}}
      ]
    },
    {
      "width": 496, "height": 219,
      "title": {"text": "POWEREU_Diff_2"},
      "layer": [
        {"data": {"name": "b"}, "transform": [{"filter": "datum.p === 'P2'"}],
         "mark": {"type": "rect", "color": "#d9d9d9"},
         "encoding": {"x": {"field": "t0", "type": "quantitative", "scale": {"domain": [2018.11, 2024.27], "nice": false, "zero": false}, "axis": {"values": [2020, 2022, 2024], "format": "d", "title": null}}, "x2": {"field": "t1"}}},
        {"data": {"name": "s"}, "transform": [{"filter": "datum.p === 'P2'"}],
         "mark": {"type": "line", "color": "#0000ff", "strokeWidth": 1.1},
         "encoding": {"x": {"field": "t", "type": "quantitative", "scale": {"domain": [2018.11, 2024.27], "nice": false, "zero": false}, "axis": {"values": [2020, 2022, 2024], "format": "d", "title": null}},
                      "y": {"field": "v", "type": "quantitative", "scale": {"domain": [-3.79, 6.45], "nice": false, "zero": false}, "axis": {"values": [-2, 0, 2, 4, 6], "title": null, "labelExpr": "replace(datum.label, '−', '-')"}}}},
        {"data": {"name": "cv"},
         "mark": {"type": "line", "color": "#ff0000", "strokeWidth": 2, "strokeDash": [6.5, 6.5]},
         "encoding": {"x": {"field": "t", "type": "quantitative"}, "y": {"field": "v", "type": "quantitative"}}}
      ]
    }
  ]
}
